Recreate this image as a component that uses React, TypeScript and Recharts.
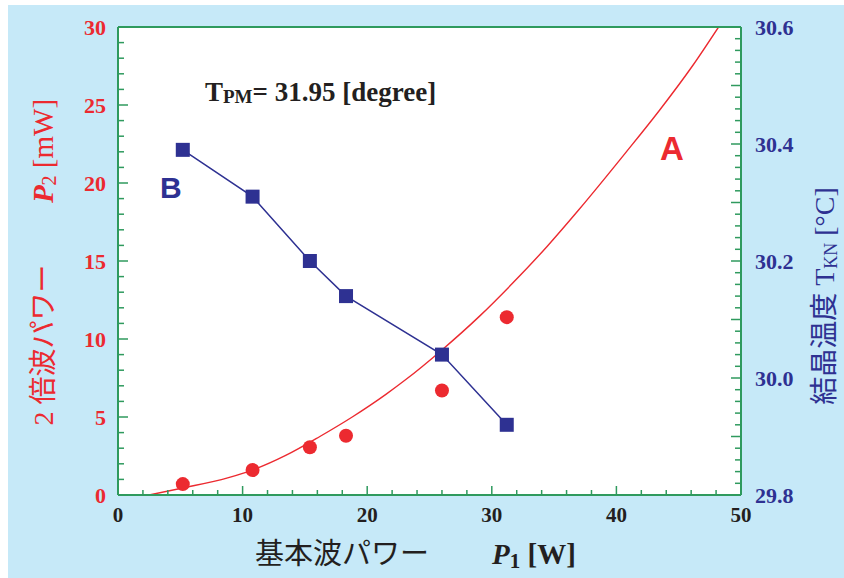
import React from 'react';
import { ComposedChart, Line, Scatter, XAxis, YAxis, CartesianGrid } from 'recharts';

// fitted curve A (P2 vs P1)
const CURVE_X = [2.5, 5.2, 8.8, 10.8, 13.5, 16.2, 18.8, 21.5, 23.1, 26, 29, 31.7, 34.4, 37, 40.7, 43.4, 46.1, 48.2];
const CURVE_Y = [0, 0.45, 1.1, 1.6, 2.55, 3.75, 5.0, 6.45, 7.4, 9.3, 11.45, 13.6, 15.9, 18.3, 21.9, 24.6, 27.5, 30];

// measured second-harmonic power (red circles)
const P1_MEAS = [5.2, 10.8, 15.4, 18.3, 26.0, 31.2];
const P2_MEAS = [0.7, 1.6, 3.06, 3.8, 6.7, 11.4];

// crystal temperature (blue squares, right axis)
const TEMP_X = [5.2, 10.8, 15.4, 18.3, 26.0, 31.2];
const TEMP_Y = [30.39, 30.31, 30.2, 30.14, 30.04, 29.92];

// tick values
const X_TICKS = Array.from({ length: 26 }, (_, i) => i * 2);
const LEFT_TICKS = Array.from({ length: 31 }, (_, i) => i);
const RIGHT_TICKS = Array.from({ length: 41 }, (_, i) => (2980 + i * 2) / 100);

const curveData = CURVE_X.map((x, i) => ({ x, y: CURVE_Y[i] }));
const measData = P1_MEAS.map((x, i) => ({ x, y: P2_MEAS[i] }));
const tempData = TEMP_X.map((x, i) => ({ x, t: TEMP_Y[i] }));

const GREEN = '#2f9a5e';
const RED = '#ec2a30';
const BLUE = '#2e3192';
const INK = '#231f20';
const SERIF = '"Liberation Serif", "Times New Roman", serif';
const CJK = '"Liberation Serif", "Noto Sans CJK JP", serif';
const SANS = '"Liberation Sans", Arial, sans-serif';

const BottomTick = (props: any) => {
  const { x, y, payload } = props;
  const v = payload.value;
  const major = v % 10 === 0;
  return (
    <g>
      <line x1={x} y1={y} x2={x} y2={y - (major ? 9 : 5)} stroke={GREEN} strokeWidth={1.5} />
      {major && (
        <text x={x} y={y + 27} textAnchor="middle" fontFamily={SERIF} fontWeight="bold" fontSize={21} fill={INK}>
          {v}
        </text>
      )}
    </g>
  );
};

const TopTick = (props: any) => {
  const { x, y, payload } = props;
  const major = payload.value % 10 === 0;
  return <line x1={x} y1={y} x2={x} y2={y + (major ? 9 : 5)} stroke={GREEN} strokeWidth={1.5} />;
};

const LeftTick = (props: any) => {
  const { x, y, payload } = props;
  const v = payload.value;
  const major = v % 5 === 0;
  return (
    <g>
      <line x1={x} y1={y} x2={x + (major ? 10 : 6)} y2={y} stroke={GREEN} strokeWidth={1.5} />
      {major && (
        <text x={x - 12} y={y} dy="0.36em" textAnchor="end" fontFamily={SERIF} fontWeight="bold" fontSize={22} fill={RED}>
          {v}
        </text>
      )}
    </g>
  );
};

const RightTick = (props: any) => {
  const { x, y, payload } = props;
  const h = Math.round(payload.value * 100);
  const major = h % 10 === 0;
  const labeled = h % 20 === 0;
  return (
    <g>
      <line x1={x} y1={y} x2={x - (major ? 10 : 6)} y2={y} stroke={GREEN} strokeWidth={1.5} />
      {labeled && (
        <text x={x + 14} y={y} dy="0.36em" textAnchor="start" fontFamily={SERIF} fontWeight="bold" fontSize={22} fill={BLUE}>
          {payload.value.toFixed(1)}
        </text>
      )}
    </g>
  );
};

const SquareDot = (props: any) => {
  const { cx, cy } = props;
  if (cx == null || cy == null) return null;
  return <rect x={cx - 7} y={cy - 7} width={14} height={14} fill={BLUE} />;
};

const RoundDot = (props: any) => {
  const { cx, cy } = props;
  return <circle cx={cx} cy={cy} r={7} fill={RED} />;
};

export default function App() {
  return (
    <div style={{ position: 'absolute', left: 0, top: 0, width: 844, height: 578, background: '#fff' }}>
      <div style={{ position: 'absolute', left: 8, top: 5, width: 836, height: 573, background: '#c6e9f8' }}>
        <ComposedChart width={836} height={573} margin={{ top: 2, right: 0, bottom: 0, left: 0 }}>
          <CartesianGrid horizontal={false} vertical={false} fill="#ffffff" />
          <XAxis
            dataKey="x"
            type="number"
            domain={[0, 50]}
            ticks={X_TICKS}
            interval={0}
            height={83}
            tickSize={0}
            tickMargin={0}
            tickLine={false}
            axisLine={{ stroke: GREEN, strokeWidth: 2 }}
            tick={<BottomTick />}
          />
          <XAxis
            xAxisId="top"
            orientation="top"
            dataKey="x"
            type="number"
            domain={[0, 50]}
            ticks={X_TICKS}
            interval={0}
            height={20}
            tickSize={0}
            tickMargin={0}
            tickLine={false}
            axisLine={{ stroke: GREEN, strokeWidth: 2 }}
            tick={<TopTick />}
          />
          <YAxis
            yAxisId="left"
            type="number"
            domain={[0, 30]}
            ticks={LEFT_TICKS}
            interval={0}
            width={110}
            tickSize={0}
            tickMargin={0}
            tickLine={false}
            axisLine={{ stroke: GREEN, strokeWidth: 2 }}
            tick={<LeftTick />}
            allowDataOverflow
          />
          <YAxis
            yAxisId="right"
            orientation="right"
            type="number"
            domain={[29.8, 30.6]}
            ticks={RIGHT_TICKS}
            interval={0}
            width={103}
            tickSize={0}
            tickMargin={0}
            tickLine={false}
            axisLine={{ stroke: GREEN, strokeWidth: 2 }}
            tick={<RightTick />}
            allowDataOverflow
          />
          <Line
            yAxisId="left"
            data={curveData}
            dataKey="y"
            type="monotone"
            stroke={RED}
            strokeWidth={1.4}
            dot={false}
            activeDot={false}
            isAnimationActive={false}
          />
          <Line
            yAxisId="right"
            data={tempData}
            dataKey="t"
            type="linear"
            stroke={BLUE}
            strokeWidth={1.5}
            dot={<SquareDot />}
            activeDot={false}
            isAnimationActive={false}
          />
          <Scatter yAxisId="left" data={measData} dataKey="y" shape={<RoundDot />} isAnimationActive={false} />
        </ComposedChart>
      </div>

      {/* titles and annotations */}
      <svg width={844} height={578} style={{ position: 'absolute', left: 0, top: 0, pointerEvents: 'none' }}>
        <text x={205} y={101} fontFamily={SERIF} fontWeight="bold" fontSize={27} fill={INK}>
          T<tspan fontSize={19} dy={2}>PM</tspan>
          <tspan dy={-2}>= 31.95 [degree]</tspan>
        </text>
        <text x={160} y={198} fontFamily={SANS} fontWeight="bold" fontSize={30} fill={BLUE}>B</text>
        <text x={660} y={160} fontFamily={SANS} fontWeight="bold" fontSize={33} fill={RED}>A</text>

        <text transform="rotate(-90 53 345)" x={53} y={345} textAnchor="middle" fontFamily={CJK} fontSize={28} fill={RED}>
          2 倍波パワー
        </text>
        <text transform="rotate(-90 53 151)" x={53} y={151} textAnchor="middle" fontFamily={SERIF} fontSize={29} fill={RED}>
          <tspan fontStyle="italic" fontWeight="bold">P</tspan>
          <tspan fontSize={20} dy={3}>2</tspan>
          <tspan dy={-3}> [mW]</tspan>
        </text>

        <text transform="rotate(-90 834 296)" x={834} y={296} textAnchor="middle" fontFamily={CJK} fontSize={28} fill={BLUE}>
          結晶温度 T<tspan fontSize={18} dy={3}>KN</tspan>
          <tspan dy={-3}> [°C]</tspan>
        </text>

        <text x={255} y={564} fontFamily={CJK} fontSize={29} fill={INK}>基本波パワー</text>
        <text x={492} y={564} fontFamily={SERIF} fontWeight="bold" fontSize={29} fill={INK}>
          <tspan fontStyle="italic">P</tspan>
          <tspan fontSize={21} dy={4}>1</tspan>
          <tspan dy={-4}> [W]</tspan>
        </text>
      </svg>
    </div>
  );
}
